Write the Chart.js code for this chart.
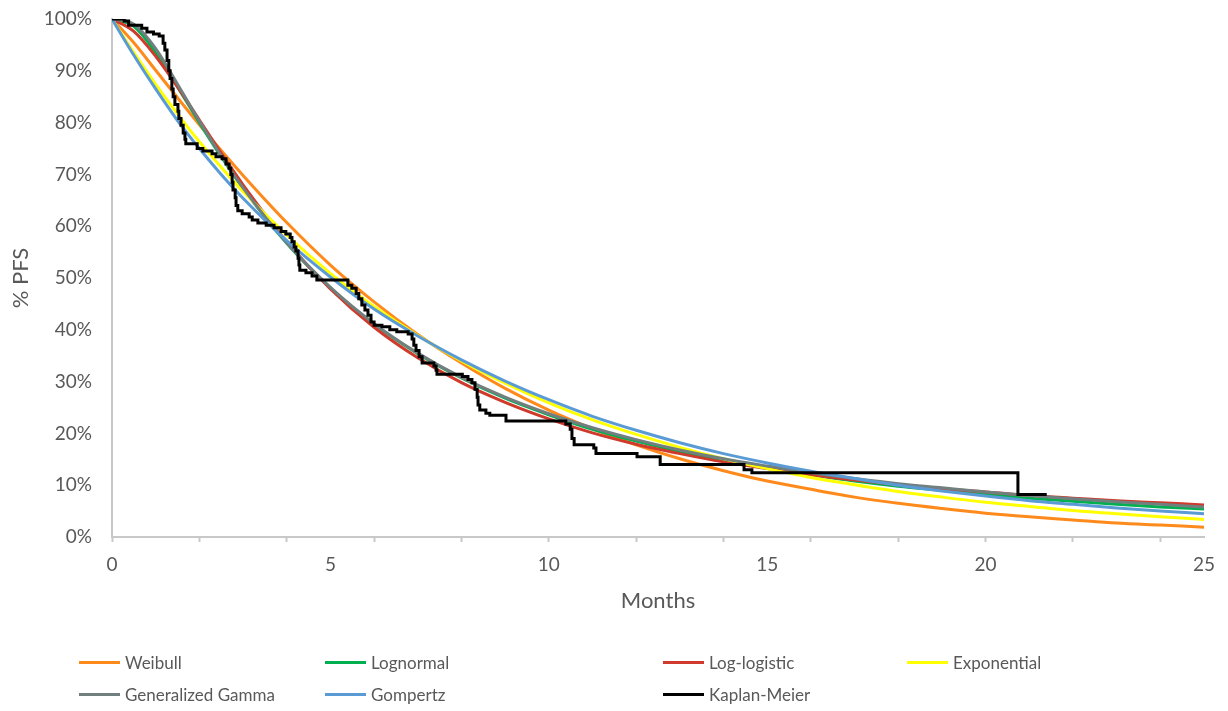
<!DOCTYPE html>
<html>
<head>
<meta charset="utf-8">
<script src="https://cdn.jsdelivr.net/npm/chart.js@4/dist/chart.umd.min.js"></script>
<style>
  html, body { margin: 0; padding: 0; background: #ffffff; }
  #wrap { position: relative; width: 1228px; height: 711px; overflow: hidden; }
  #pfs { position: absolute; left: 0; top: 0; }
  .key { position: absolute; height: 24px; line-height: 24px; white-space: nowrap;
         font-family: Lato, "Open Sans", sans-serif; font-size: 17px; color: #595959; }
  .key i { position: absolute; left: 0; top: 10px; width: 41px; height: 3px; }
  .key span { position: absolute; left: 46px; top: 0; }
</style>
</head>
<body>
<div id="wrap">
  <canvas id="pfs" width="1228" height="711"></canvas>
</div>
<script>
// Time grid (months) shared by the fitted parametric curves
const months = [0, 0.5, 1, 1.5, 2, 2.5, 3, 4, 5, 6, 7, 8, 9, 10, 11, 12, 13, 14, 15,
                16, 17, 18, 19, 20, 21, 22, 23, 24, 25];

// Fitted survival curves, % PFS
const weibull     = [100, 95.4, 90.1, 84.8, 79.6, 74.6, 69.8, 60.7, 52.5, 45.4, 39.1, 33.6, 28.7, 24.5, 20.9,
                     17.8, 15.1, 12.8, 10.8, 9.2, 7.7, 6.5, 5.5, 4.6, 3.9, 3.3, 2.7, 2.3, 1.9];
const lognormal   = [100, 98.6, 93.5, 86.9, 80.0, 73.4, 67.3, 56.7, 48.1, 41.1, 35.4, 30.7, 26.8, 23.6, 20.8,
                     18.5, 16.5, 14.7, 13.3, 12.0, 10.8, 9.8, 9.0, 8.2, 7.5, 6.9, 6.3, 5.8, 5.4];
const logLogistic = [100, 97.6, 92.8, 86.9, 80.5, 74.1, 68.0, 57.0, 47.9, 40.5, 34.6, 29.8, 26.0, 22.8, 20.1,
                     17.9, 16.1, 14.5, 13.2, 12.0, 11.0, 10.1, 9.3, 8.7, 8.0, 7.5, 7.0, 6.6, 6.2];
const exponential = [100, 93.5, 87.4, 81.7, 76.3, 71.4, 66.7, 58.3, 50.9, 44.5, 38.9, 34.0, 29.7, 25.9, 22.6,
                     19.8, 17.3, 15.1, 13.2, 11.5, 10.1, 8.8, 7.7, 6.7, 5.9, 5.1, 4.5, 3.9, 3.4];
const genGamma    = [100, 99.0, 94.3, 87.4, 80.3, 73.6, 67.4, 56.8, 48.2, 41.2, 35.5, 30.8, 27.0, 23.8, 21.1,
                     18.8, 16.8, 15.1, 13.7, 12.4, 11.3, 10.3, 9.5, 8.7, 8.0, 7.4, 6.8, 6.3, 5.8];
const gompertz    = [100, 93.0, 86.5, 80.4, 75.0, 70.0, 65.4, 57.2, 50.2, 44.0, 38.8, 34.2, 30.1, 26.5, 23.3,
                     20.6, 18.2, 16.1, 14.3, 12.7, 11.3, 10.0, 8.9, 7.9, 7.0, 6.3, 5.6, 5.0, 4.5];

// Kaplan-Meier estimate: event times (months) and survival after each event (%)
const kmTime = [0, 0.28, 0.38, 0.68, 0.80, 0.95, 1.08, 1.17, 1.21, 1.26, 1.30, 1.33, 1.37, 1.40, 1.44,
                1.51, 1.53, 1.58, 1.63, 1.67, 1.69, 1.95, 2.08, 2.29, 2.38, 2.52, 2.61, 2.68, 2.72, 2.75,
                2.77, 2.82, 2.84, 2.88, 2.98, 3.14, 3.21, 3.34, 3.53, 3.71, 3.87, 3.98, 4.08, 4.12, 4.17,
                4.21, 4.26, 4.28, 4.30, 4.44, 4.58, 4.69, 5.40, 5.49, 5.59, 5.65, 5.72, 5.79, 5.86, 5.93,
                6.00, 6.18, 6.36, 6.52, 6.78, 6.87, 6.91, 6.96, 7.03, 7.10, 7.37, 7.42, 7.44, 8.02, 8.15,
                8.24, 8.31, 8.36, 8.38, 8.42, 8.56, 8.65, 9.02, 10.39, 10.49, 10.53, 10.58, 11.03, 11.08,
                12.02, 12.55, 14.47, 14.65, 20.74, 21.40];
const kmSurv = [100, 99.6, 98.8, 98.2, 97.5, 97.1, 96.7, 95.3, 94.0, 92.0, 90.0, 88.5, 86.5, 85.0, 83.5,
                82.2, 80.8, 79.5, 78.0, 76.8, 75.9, 75.0, 74.5, 74.0, 73.4, 73.0, 72.0, 71.2, 70.0, 68.5,
                67.0, 65.5, 64.0, 63.0, 62.4, 61.8, 61.2, 60.6, 60.2, 59.7, 59.0, 58.5, 57.8, 57.0, 56.0,
                55.2, 53.8, 52.5, 51.5, 51.0, 50.4, 49.6, 48.6, 48.0, 47.0, 46.0, 44.8, 43.8, 42.8, 41.5,
                40.9, 40.6, 40.0, 39.6, 39.2, 38.2, 37.0, 36.0, 34.8, 33.6, 33.0, 32.2, 31.4, 31.0, 30.4,
                29.8, 28.5, 27.0, 25.5, 24.5, 23.9, 23.5, 22.4, 21.8, 20.8, 19.0, 17.8, 17.2, 16.1, 15.5,
                14.0, 13.0, 12.4, 8.2, 8.2];

// Axis ticks
const xTickLabels = [0, 5, 10, 15, 20, 25];
const yTickValues = [0, 10, 20, 30, 40, 50, 60, 70, 80, 90, 100];

const TEXT = '#595959';
const AXIS = '#c8c8c8';
const FONT = 'Lato, "Open Sans", sans-serif';

const pts = (xs, ys) => xs.map((x, i) => ({ x: x, y: ys[i] }));

const series = [
  { label: 'Weibull',            values: weibull,     color: '#ff8a1c', order: 6 },
  { label: 'Lognormal',          values: lognormal,   color: '#00b050', order: 5 },
  { label: 'Log-logistic',       values: logLogistic, color: '#cf3a2c', order: 4 },
  { label: 'Exponential',        values: exponential, color: '#ffff00', order: 3 },
  { label: 'Generalized Gamma',  values: genGamma,    color: '#727f7f', order: 2 },
  { label: 'Gompertz',           values: gompertz,    color: '#5b9bd5', order: 1 }
];

const datasets = series.map(s => ({
  label: s.label,
  data: pts(months, s.values),
  borderColor: s.color,
  backgroundColor: s.color,
  borderWidth: 3,
  pointRadius: 0,
  fill: false,
  cubicInterpolationMode: 'monotone',
  order: s.order
}));
datasets.push({
  label: 'Kaplan-Meier',
  data: pts(kmTime, kmSurv),
  borderColor: '#000000',
  backgroundColor: '#000000',
  borderWidth: 3,
  pointRadius: 0,
  fill: false,
  stepped: 'before',
  borderJoinStyle: 'miter',
  order: 0
});

// Plot-area edges are set by layout padding alone, not by label overhang
const noOverhang = sc => {
  sc.paddingTop = 0; sc.paddingBottom = 0; sc.paddingLeft = 0; sc.paddingRight = 0;
};

new Chart(document.getElementById('pfs'), {
  type: 'line',
  data: { datasets: datasets },
  options: {
    responsive: false,
    animation: false,
    devicePixelRatio: 1,
    layout: { padding: { left: 0, right: 24, top: 19, bottom: 97 } },
    plugins: { legend: { display: false }, tooltip: { enabled: false } },
    scales: {
      x: {
        type: 'linear',
        min: 0, max: 25,
        afterFit: sc => { sc.height = 77; noOverhang(sc); },
        border: { display: true, color: AXIS, width: 2 },
        grid: {
          display: true,
          drawOnChartArea: false,
          drawTicks: true,
          tickLength: 5,
          tickWidth: 2,
          tickColor: c => (c.tick && c.tick.value % 2 === 0) ? AXIS : 'rgba(0,0,0,0)'
        },
        ticks: {
          stepSize: 1,
          autoSkip: false,
          maxRotation: 0,
          padding: 11,
          color: TEXT,
          font: { family: FONT, size: 19 },
          callback: v => xTickLabels.includes(v) ? String(v) : ''
        },
        title: {
          display: true, text: 'Months', color: TEXT,
          font: { family: FONT, size: 22 },
          padding: { top: 0, bottom: 0 }
        }
      },
      y: {
        type: 'linear',
        min: 0, max: 100,
        afterFit: sc => { sc.width = 112; noOverhang(sc); },
        afterBuildTicks: sc => { sc.ticks = yTickValues.map(v => ({ value: v })); },
        border: { display: true, color: AXIS, width: 2 },
        grid: { display: false, drawTicks: false },
        ticks: {
          padding: 20,
          color: TEXT,
          font: { family: FONT, size: 19 },
          callback: v => v + '%'
        },
        title: {
          display: true, text: '% PFS', color: TEXT,
          font: { family: FONT, size: 22 },
          padding: { top: 8, bottom: 0 }
        }
      }
    }
  }
});

// Legend laid out in four columns, two rows, below the plot
const legendSlots = [
  { left: 79,  top: 651 }, { left: 325, top: 651 }, { left: 663, top: 651 }, { left: 907, top: 651 },
  { left: 79,  top: 683 }, { left: 325, top: 683 }, { left: 663, top: 683 }
];
const wrap = document.getElementById('wrap');
datasets.forEach((d, i) => {
  const slot = legendSlots[i];
  const el = document.createElement('div');
  el.className = 'key';
  el.style.left = slot.left + 'px';
  el.style.top = slot.top + 'px';
  const sw = document.createElement('i');
  sw.style.background = d.borderColor;
  const tx = document.createElement('span');
  tx.textContent = d.label;
  el.appendChild(sw);
  el.appendChild(tx);
  wrap.appendChild(el);
});
</script>
</body>
</html>
